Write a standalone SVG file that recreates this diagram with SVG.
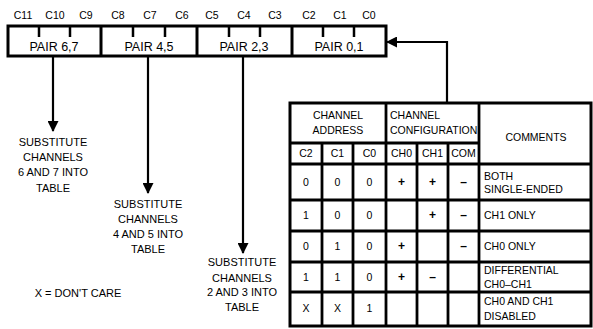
<svg xmlns="http://www.w3.org/2000/svg" width="593" height="329" viewBox="0 0 593 329">
<style>
text{font-family:"Liberation Sans",Arial,sans-serif;fill:#000}
.lbl{font-size:10.5px;text-anchor:middle}
.pair{font-size:12.5px;text-anchor:middle}
.t{font-size:10.5px;text-anchor:middle}
.tl{font-size:10.5px;text-anchor:start}
.sym{font-size:12px;font-weight:bold;text-anchor:middle}
.note{font-size:11px;text-anchor:middle}
.thick{stroke:#000;stroke-width:3;fill:none}
.grid{stroke:#000;stroke-width:2.8;fill:none}
.tick{stroke:#000;stroke-width:2.5}
.conn{stroke:#000;stroke-width:2.2;fill:none}
</style>
<defs>
<marker id="ah" markerWidth="11" markerHeight="11" refX="10" refY="5.5" orient="auto" markerUnits="userSpaceOnUse">
<path d="M0,0 L11,5.5 L0,11 Z" fill="#000"/>
</marker>
</defs>
<rect width="593" height="329" fill="#fff"/>

<g id="register">
<rect class="thick" x="8" y="26" width="378" height="30"/>
<line class="thick" x1="101" y1="26" x2="101" y2="56"/>
<line class="thick" x1="197" y1="26" x2="197" y2="56"/>
<line class="thick" x1="292" y1="26" x2="292" y2="56"/>
<g class="tick">
<line x1="39" y1="26" x2="39" y2="37"/><line x1="70" y1="26" x2="70" y2="37"/>
<line x1="133" y1="26" x2="133" y2="37"/><line x1="165" y1="26" x2="165" y2="37"/>
<line x1="229" y1="26" x2="229" y2="37"/><line x1="260" y1="26" x2="260" y2="37"/>
<line x1="323" y1="26" x2="323" y2="37"/><line x1="354" y1="26" x2="354" y2="37"/>
</g>
<text class="lbl" x="23" y="19">C11</text><text class="lbl" x="55" y="19">C10</text><text class="lbl" x="86" y="19">C9</text>
<text class="lbl" x="118" y="19">C8</text><text class="lbl" x="150" y="19">C7</text><text class="lbl" x="182" y="19">C6</text>
<text class="lbl" x="212" y="19">C5</text><text class="lbl" x="244" y="19">C4</text><text class="lbl" x="275" y="19">C3</text>
<text class="lbl" x="309" y="19">C2</text><text class="lbl" x="340" y="19">C1</text><text class="lbl" x="369" y="19">C0</text>
<text class="pair" x="54" y="51">PAIR 6,7</text>
<text class="pair" x="149" y="51">PAIR 4,5</text>
<text class="pair" x="244" y="51">PAIR 2,3</text>
<text class="pair" x="339" y="51">PAIR 0,1</text>
</g>

<g id="connectors">
<path class="conn" d="M447,103 L447,42 L387,42" marker-end="url(#ah)"/>
<line class="conn" x1="53" y1="56" x2="53" y2="131" marker-end="url(#ah)"/>
<line class="conn" x1="148" y1="56" x2="148" y2="193" marker-end="url(#ah)"/>
<line class="conn" x1="243" y1="56" x2="243" y2="253" marker-end="url(#ah)"/>
</g>

<g id="note67">
<text class="note" x="53" y="146">SUBSTITUTE</text>
<text class="note" x="53" y="161">CHANNELS</text>
<text class="note" x="53" y="176">6 AND 7 INTO</text>
<text class="note" x="53" y="192">TABLE</text>
</g>
<g id="note45">
<text class="note" x="148" y="208">SUBSTITUTE</text>
<text class="note" x="148" y="223">CHANNELS</text>
<text class="note" x="148" y="238">4 AND 5 INTO</text>
<text class="note" x="148" y="253">TABLE</text>
</g>
<g id="note23">
<text class="note" x="242" y="266">SUBSTITUTE</text>
<text class="note" x="242" y="282">CHANNELS</text>
<text class="note" x="242" y="296">2 AND 3 INTO</text>
<text class="note" x="242" y="311">TABLE</text>
</g>
<g id="legend">
<text class="note" x="78" y="297">X = DON'T CARE</text>
</g>

<g id="table">
<rect class="thick" x="290" y="103" width="301" height="223"/>
<g class="grid">
<line x1="290" y1="143" x2="479" y2="143"/>
<line x1="290" y1="164" x2="591" y2="164"/>
<line x1="290" y1="200" x2="591" y2="200"/>
<line x1="290" y1="231" x2="591" y2="231"/>
<line x1="290" y1="262" x2="591" y2="262"/>
<line x1="290" y1="292" x2="591" y2="292"/>
<line x1="386" y1="103" x2="386" y2="326"/>
<line x1="479" y1="103" x2="479" y2="326"/>
<line x1="322" y1="143" x2="322" y2="326"/>
<line x1="353" y1="143" x2="353" y2="326"/>
<line x1="417" y1="143" x2="417" y2="326"/>
<line x1="448" y1="143" x2="448" y2="326"/>
</g>
<text class="t" x="338" y="119">CHANNEL</text>
<text class="t" x="338" y="134">ADDRESS</text>
<text class="tl" x="390" y="119">CHANNEL</text>
<text class="tl" x="390" y="134">CONFIGURATION</text>
<text class="t" x="536" y="141">COMMENTS</text>
<text class="t" x="306" y="157">C2</text><text class="t" x="337.5" y="157">C1</text><text class="t" x="369.5" y="157">C0</text>
<text class="t" x="401.5" y="157">CH0</text><text class="t" x="432.5" y="157">CH1</text><text class="t" x="463.5" y="157">COM</text>

<text class="t" x="306" y="186">0</text><text class="t" x="337.5" y="186">0</text><text class="t" x="369.5" y="186">0</text>
<text class="sym" x="401.5" y="186">+</text><text class="sym" x="432.5" y="186">+</text><text class="sym" x="463.5" y="186">–</text>
<text class="tl" x="484" y="180">BOTH</text><text class="tl" x="484" y="193">SINGLE-ENDED</text>

<text class="t" x="306" y="219">1</text><text class="t" x="337.5" y="219">0</text><text class="t" x="369.5" y="219">0</text>
<text class="sym" x="432.5" y="219">+</text><text class="sym" x="463.5" y="219">–</text>
<text class="tl" x="484" y="219">CH1 ONLY</text>

<text class="t" x="306" y="250">0</text><text class="t" x="337.5" y="250">1</text><text class="t" x="369.5" y="250">0</text>
<text class="sym" x="401.5" y="250">+</text><text class="sym" x="463.5" y="250">–</text>
<text class="tl" x="484" y="250">CH0 ONLY</text>

<text class="t" x="306" y="281">1</text><text class="t" x="337.5" y="281">1</text><text class="t" x="369.5" y="281">0</text>
<text class="sym" x="401.5" y="281">+</text><text class="sym" x="432.5" y="281">–</text>
<text class="tl" x="484" y="274">DIFFERENTIAL</text><text class="tl" x="484" y="288">CH0–CH1</text>

<text class="t" x="306" y="312">X</text><text class="t" x="337.5" y="312">X</text><text class="t" x="369.5" y="312">1</text>
<text class="tl" x="484" y="305">CH0 AND CH1</text><text class="tl" x="484" y="320">DISABLED</text>
</g>
</svg>
